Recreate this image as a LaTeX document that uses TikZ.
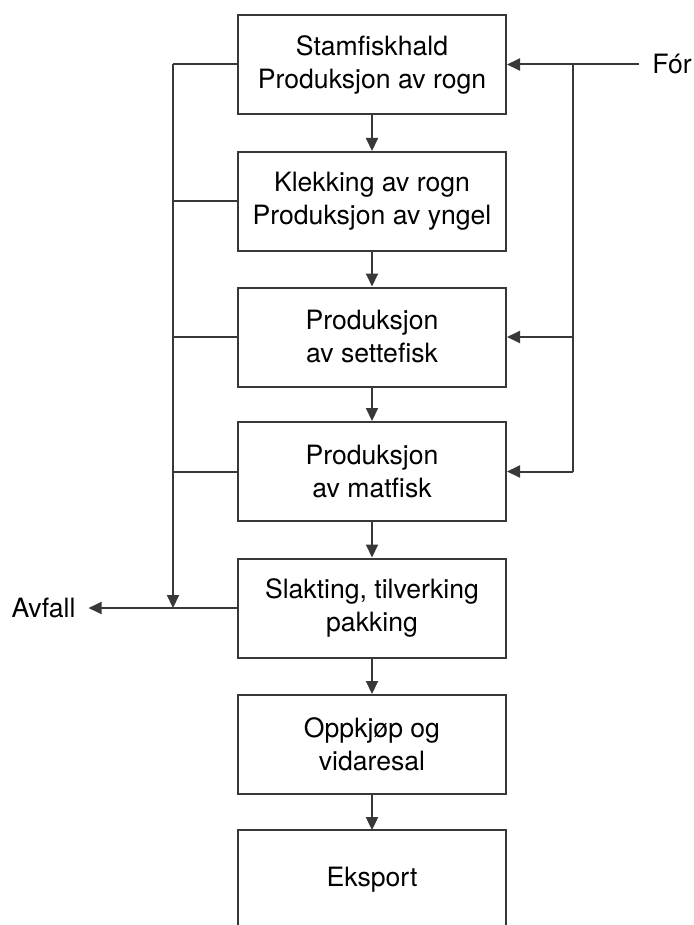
\documentclass[tikz,border=0pt]{standalone}
\usepackage{fontspec}
\setmainfont{TeX Gyre Heros}
\usetikzlibrary{arrows.meta}
\definecolor{strek}{gray}{0.22}
\begin{document}
\begin{tikzpicture}[x=0.5pt, y=-0.5pt, >={Triangle[length=6.5pt,width=6pt]},
        font=\fontsize{13.3}{16.5}\selectfont,
        boks/.style={draw=strek, line width=1pt, minimum width=134pt, minimum height=49.5pt, align=center, inner sep=0pt},
        opnaboks/.style={minimum width=134pt, minimum height=49.5pt, align=center, inner sep=0pt},
        linje/.style={draw=strek, line width=1pt},
        pil/.style={linje, ->}]
                \useasboundingbox (0,0) rectangle (694,925);
                % boksane i midten
                \node[boks] (stam)  at (372,64.5)  {Stamfiskhald\\Produksjon av rogn};
                \node[boks] (klekk) at (372,201.5) {Klekking av rogn\\Produksjon av yngel};
                \node[boks] (sette) at (372,337)   {Produksjon\\av settefisk};
                \node[boks] (mat)   at (372,471.5) {Produksjon\\av matfisk};
                \node[boks] (slakt) at (372,608)   {Slakting, tilverking\\pakking};
                \node[boks] (kjop)  at (372,744.5) {Oppkjøp og\\vidaresal};
                \node[opnaboks] (eksp) at (372,880) {Eksport};
                \coordinate (botn) at (372,925);
                \draw[linje] (eksp.west |- botn) -- (eksp.north west) -- (eksp.north east) -- (eksp.east |- botn);
                \foreach \a/\b in {stam/klekk, klekk/sette, sette/mat, mat/slakt, slakt/kjop, kjop/eksp}
                    {
                        \draw[pil] (\a) -- (\b.north);
                    }
                % avfall til venstre
                \node (avfall) at (43.5,608) {Avfall};
                \coordinate (samle) at (173,608);
                \foreach \b in {stam, klekk, sette, mat}
                    {
                        \draw[linje] (\b.west) -- (\b.west -| samle);
                    }
                \draw[pil] (stam.west -| samle) -- (samle);
                \draw[pil, shorten >=3pt] (slakt.west) -- (avfall.east);
                % fór frå høgre
                \node (for) at (672,64.5) {Fór};
                \coordinate (forlinje) at (573,64.5);
                \draw[pil, shorten <=3pt] (for.west) -- (stam.east);
                \draw[linje] (forlinje) -- (mat.east -| forlinje);
                \foreach \b in {sette, mat}
                    {
                        \draw[pil] (\b.east -| forlinje) -- (\b.east);
                    }
            \end{tikzpicture}
\end{document}
